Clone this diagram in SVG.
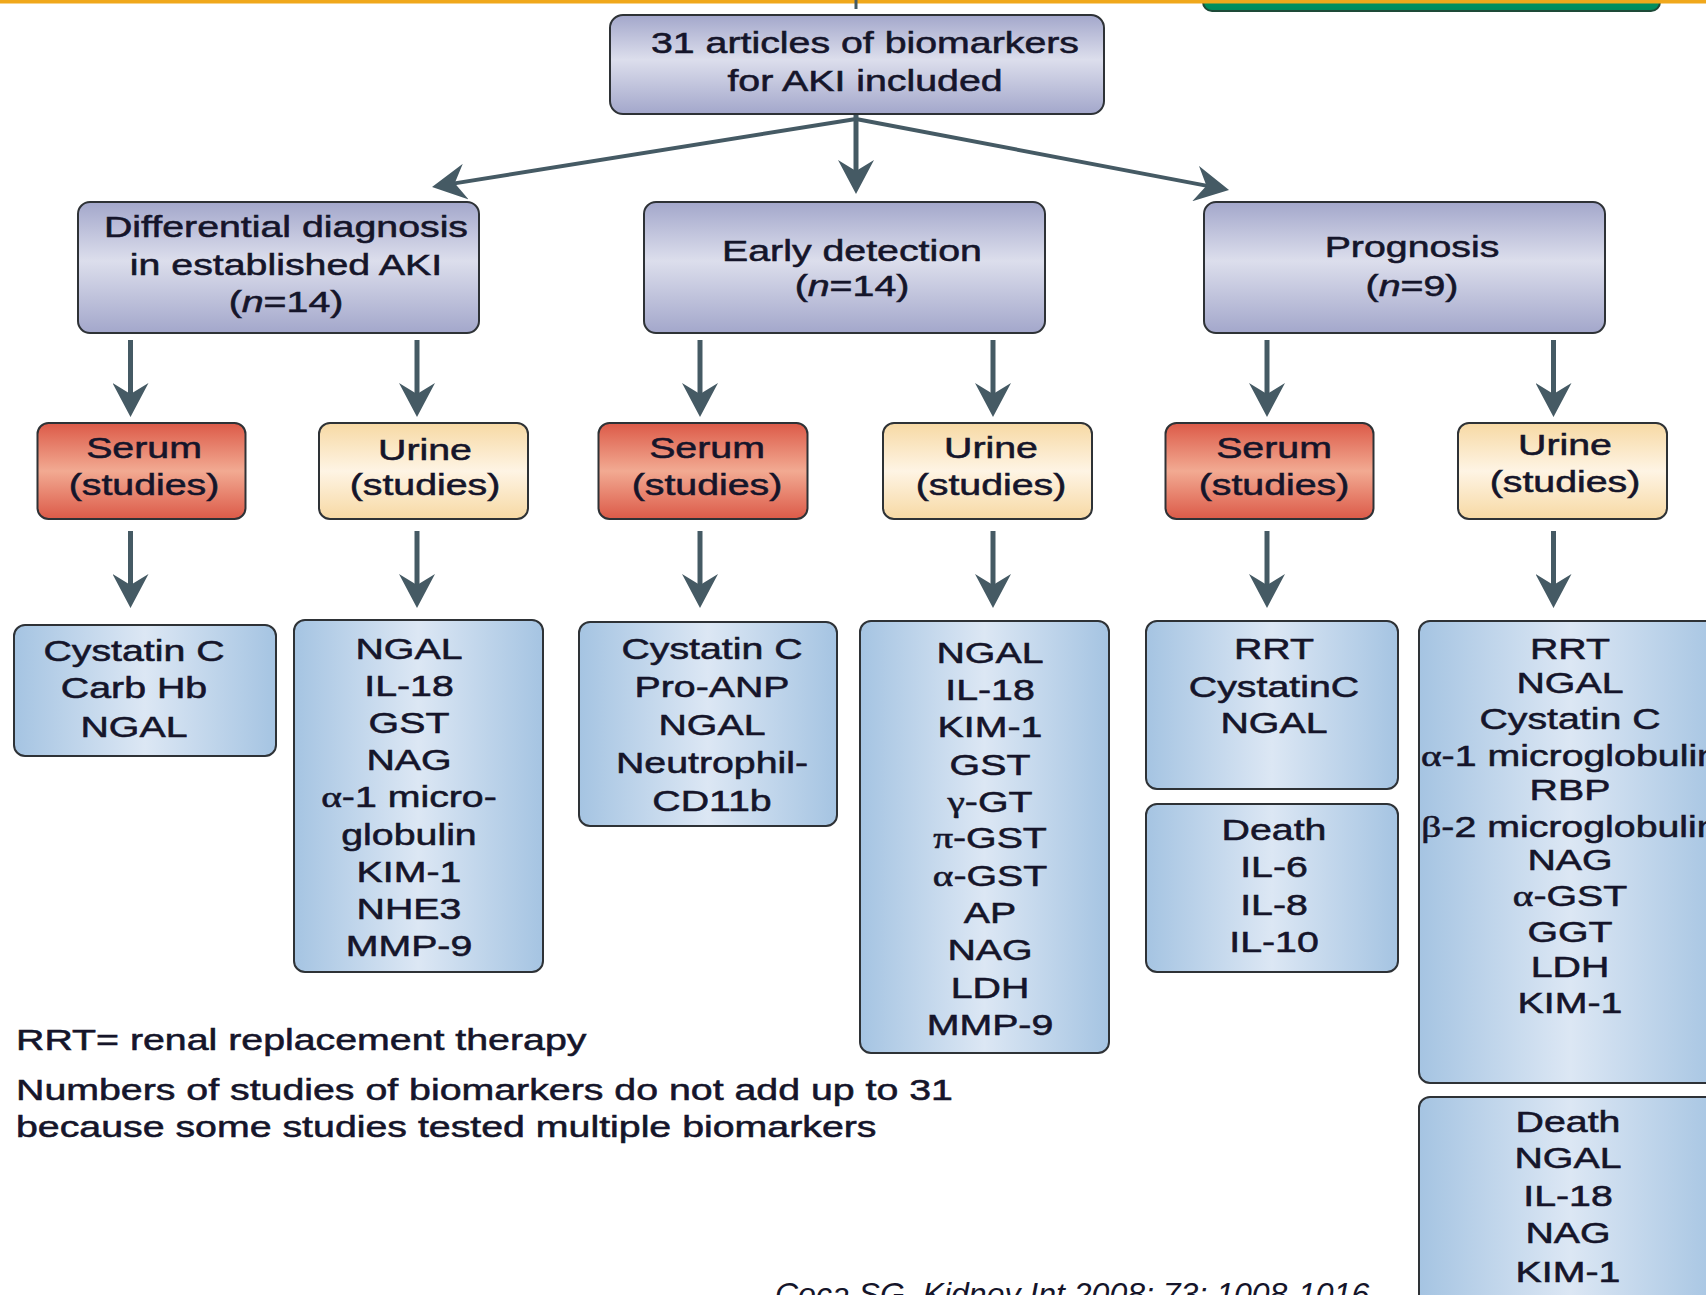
<svg xmlns="http://www.w3.org/2000/svg" width="1706" height="1295" viewBox="0 0 1706 1295">
<defs>
<linearGradient id="gLav" x1="0" y1="0" x2="0" y2="1">
<stop offset="0" stop-color="#A3A7CB"/><stop offset="0.45" stop-color="#DCDEEC"/><stop offset="1" stop-color="#A3A7CB"/>
</linearGradient>
<linearGradient id="gSerum" x1="0" y1="0" x2="0" y2="1">
<stop offset="0" stop-color="#DC5A48"/><stop offset="0.5" stop-color="#F2AA92"/><stop offset="1" stop-color="#DC5A48"/>
</linearGradient>
<linearGradient id="gUrine" x1="0" y1="0" x2="0" y2="1">
<stop offset="0" stop-color="#F7D9A4"/><stop offset="0.5" stop-color="#FEF4E4"/><stop offset="1" stop-color="#F7D9A4"/>
</linearGradient>
<linearGradient id="gBlue" x1="0" y1="0" x2="1" y2="0">
<stop offset="0" stop-color="#A5C4E2"/><stop offset="0.5" stop-color="#DCE7F4"/><stop offset="1" stop-color="#A5C4E2"/>
</linearGradient>
<linearGradient id="gGreen" x1="0" y1="0" x2="0" y2="1">
<stop offset="0" stop-color="#00A56E"/><stop offset="1" stop-color="#008A5C"/>
</linearGradient>
<marker id="ah" viewBox="0 0 34 36" markerWidth="34" markerHeight="36" refX="24" refY="18" orient="auto" markerUnits="userSpaceOnUse">
<path d="M0,0 L34,18 L0,36 L11,18 Z" fill="#455A64"/>
</marker>
<style>
.box{stroke:#2E3236;stroke-width:2}
.lav{fill:url(#gLav)}
.ser{fill:url(#gSerum)}
.uri{fill:url(#gUrine)}
.blu{fill:url(#gBlue)}
.t{font-family:"Liberation Sans",Arial,sans-serif;font-size:30px;fill:#15152A;stroke:#15152A;stroke-width:0.55;text-anchor:middle}
.tl{font-family:"Liberation Sans",Arial,sans-serif;font-size:30px;fill:#15152A;stroke:#15152A;stroke-width:0.55;text-anchor:start}
.gr{font-family:"Liberation Serif","Times New Roman",serif}
.it{font-style:italic}
.conn line{stroke:#455A64;fill:none;marker-end:url(#ah)}
.v{stroke-width:5}
.d{stroke-width:4}
</style>
</defs>
<rect x="0" y="0" width="1706" height="1295" fill="#FFFFFF"/>

<!-- slide decorations -->
<rect x="1203" y="-20" width="457" height="31" rx="9" fill="url(#gGreen)" stroke="#1E4A38" stroke-width="2"/>
<rect x="0" y="0" width="1706" height="3.5" fill="#F0A81C"/>
<line x1="856" y1="0" x2="856" y2="9" stroke="#455A64" stroke-width="3"/>

<g id="connectors" class="conn">
<line class="v" x1="856" y1="114" x2="856" y2="184"/>
<line class="d" x1="856" y1="119" x2="441.9" y2="185.4"/>
<line class="d" x1="856" y1="119" x2="1219.2" y2="188.1"/>
<line class="v" x1="130.5" y1="340" x2="130.5" y2="407"/>
<line class="v" x1="417" y1="340" x2="417" y2="407"/>
<line class="v" x1="700" y1="340" x2="700" y2="407"/>
<line class="v" x1="993" y1="340" x2="993" y2="407"/>
<line class="v" x1="1267" y1="340" x2="1267" y2="407"/>
<line class="v" x1="1553.5" y1="340" x2="1553.5" y2="407"/>
<line class="v" x1="130.5" y1="531" x2="130.5" y2="598"/>
<line class="v" x1="417" y1="531" x2="417" y2="598"/>
<line class="v" x1="700" y1="531" x2="700" y2="598"/>
<line class="v" x1="993" y1="531" x2="993" y2="598"/>
<line class="v" x1="1267" y1="531" x2="1267" y2="598"/>
<line class="v" x1="1553.5" y1="531" x2="1553.5" y2="598"/>
</g>

<g id="n-top">
<rect class="box lav" x="610" y="15" width="494" height="99" rx="13"/>
<text class="t" transform="translate(865 0) scale(1.31 1)"><tspan x="0" y="53">31 articles of biomarkers</tspan><tspan x="0" y="91">for AKI included</tspan></text>
</g>

<g id="n-diff">
<rect class="box lav" x="78" y="202" width="401" height="131" rx="12"/>
<text class="t" transform="translate(286 0) scale(1.31 1)"><tspan x="0" y="237">Differential diagnosis</tspan><tspan x="0" y="275">in established AKI</tspan><tspan x="0" y="312">(<tspan class="it">n</tspan>=14)</tspan></text>
</g>

<g id="n-early">
<rect class="box lav" x="644" y="202" width="401" height="131" rx="12"/>
<text class="t" transform="translate(852 0) scale(1.31 1)"><tspan x="0" y="261">Early detection</tspan><tspan x="0" y="296">(<tspan class="it">n</tspan>=14)</tspan></text>
</g>

<g id="n-prog">
<rect class="box lav" x="1204" y="202" width="401" height="131" rx="12"/>
<text class="t" transform="translate(1412 0) scale(1.31 1)"><tspan x="0" y="257">Prognosis</tspan><tspan x="0" y="296">(<tspan class="it">n</tspan>=9)</tspan></text>
</g>

<g id="n-diff-serum">
<rect class="box ser" x="37.5" y="423" width="208" height="96" rx="11"/>
<text class="t" transform="translate(144 0) scale(1.31 1)"><tspan x="0" y="458">Serum</tspan><tspan x="0" y="495">(studies)</tspan></text>
</g>
<g id="n-diff-urine">
<rect class="box uri" x="319" y="423" width="209" height="96" rx="11"/>
<text class="t" transform="translate(425 0) scale(1.31 1)"><tspan x="0" y="460">Urine</tspan><tspan x="0" y="495">(studies)</tspan></text>
</g>
<g id="n-early-serum">
<rect class="box ser" x="598.5" y="423" width="209" height="96" rx="11"/>
<text class="t" transform="translate(707 0) scale(1.31 1)"><tspan x="0" y="458">Serum</tspan><tspan x="0" y="495">(studies)</tspan></text>
</g>
<g id="n-early-urine">
<rect class="box uri" x="883" y="423" width="209" height="96" rx="11"/>
<text class="t" transform="translate(991 0) scale(1.31 1)"><tspan x="0" y="458">Urine</tspan><tspan x="0" y="495">(studies)</tspan></text>
</g>
<g id="n-prog-serum">
<rect class="box ser" x="1165.5" y="423" width="208" height="96" rx="11"/>
<text class="t" transform="translate(1274 0) scale(1.31 1)"><tspan x="0" y="458">Serum</tspan><tspan x="0" y="495">(studies)</tspan></text>
</g>
<g id="n-prog-urine">
<rect class="box uri" x="1458" y="423" width="209" height="96" rx="11"/>
<text class="t" transform="translate(1565 0) scale(1.31 1)"><tspan x="0" y="455">Urine</tspan><tspan x="0" y="492">(studies)</tspan></text>
</g>

<g id="n-diff-serum-list">
<rect class="box blu" x="14" y="625" width="262" height="131" rx="11"/>
<text class="t" transform="translate(134 0) scale(1.31 1)"><tspan x="0" y="661">Cystatin C</tspan><tspan x="0" y="698">Carb Hb</tspan><tspan x="0" y="737">NGAL</tspan></text>
</g>

<g id="n-diff-urine-list">
<rect class="box blu" x="294" y="620" width="249" height="352" rx="11"/>
<text class="t" transform="translate(409 0) scale(1.31 1)"><tspan x="0" y="659">NGAL</tspan><tspan x="0" y="696">IL-18</tspan><tspan x="0" y="733">GST</tspan><tspan x="0" y="770">NAG</tspan><tspan x="0" y="807"><tspan class="gr">α</tspan>-1 micro-</tspan><tspan x="0" y="845">globulin</tspan><tspan x="0" y="882">KIM-1</tspan><tspan x="0" y="919">NHE3</tspan><tspan x="0" y="956">MMP-9</tspan></text>
</g>

<g id="n-early-serum-list">
<rect class="box blu" x="579" y="622" width="258" height="204" rx="11"/>
<text class="t" transform="translate(712 0) scale(1.31 1)"><tspan x="0" y="659">Cystatin C</tspan><tspan x="0" y="697">Pro-ANP</tspan><tspan x="0" y="735">NGAL</tspan><tspan x="0" y="773">Neutrophil-</tspan><tspan x="0" y="811">CD11b</tspan></text>
</g>

<g id="n-early-urine-list">
<rect class="box blu" x="860" y="621" width="249" height="432" rx="11"/>
<text class="t" transform="translate(990 0) scale(1.31 1)"><tspan x="0" y="663">NGAL</tspan><tspan x="0" y="700">IL-18</tspan><tspan x="0" y="737">KIM-1</tspan><tspan x="0" y="775">GST</tspan><tspan x="0" y="812"><tspan class="gr">γ</tspan>-GT</tspan><tspan x="0" y="848"><tspan class="gr">π</tspan>-GST</tspan><tspan x="0" y="886"><tspan class="gr">α</tspan>-GST</tspan><tspan x="0" y="923">AP</tspan><tspan x="0" y="960">NAG</tspan><tspan x="0" y="998">LDH</tspan><tspan x="0" y="1035">MMP-9</tspan></text>
</g>

<g id="n-prog-serum-rrt">
<rect class="box blu" x="1146" y="621" width="252" height="168" rx="11"/>
<text class="t" transform="translate(1274 0) scale(1.31 1)"><tspan x="0" y="659">RRT</tspan><tspan x="0" y="697">CystatinC</tspan><tspan x="0" y="733">NGAL</tspan></text>
</g>

<g id="n-prog-serum-death">
<rect class="box blu" x="1146" y="804" width="252" height="168" rx="11"/>
<text class="t" transform="translate(1274 0) scale(1.31 1)"><tspan x="0" y="840">Death</tspan><tspan x="0" y="877">IL-6</tspan><tspan x="0" y="915">IL-8</tspan><tspan x="0" y="952">IL-10</tspan></text>
</g>

<g id="n-prog-urine-rrt">
<rect class="box blu" x="1419" y="621" width="303" height="462" rx="11"/>
<text class="t" transform="translate(1570 0) scale(1.31 1)"><tspan x="0" y="659">RRT</tspan><tspan x="0" y="693">NGAL</tspan><tspan x="0" y="729">Cystatin C</tspan><tspan x="0" y="766"><tspan class="gr">α</tspan>-1 microglobulin</tspan><tspan x="0" y="800">RBP</tspan><tspan x="0" y="837"><tspan class="gr">β</tspan>-2 microglobulin</tspan><tspan x="0" y="870">NAG</tspan><tspan x="0" y="906"><tspan class="gr">α</tspan>-GST</tspan><tspan x="0" y="942">GGT</tspan><tspan x="0" y="977">LDH</tspan><tspan x="0" y="1013">KIM-1</tspan></text>
</g>

<g id="n-prog-urine-death">
<rect class="box blu" x="1419" y="1097" width="303" height="220" rx="11"/>
<text class="t" transform="translate(1568 0) scale(1.31 1)"><tspan x="0" y="1132">Death</tspan><tspan x="0" y="1168">NGAL</tspan><tspan x="0" y="1206">IL-18</tspan><tspan x="0" y="1243">NAG</tspan><tspan x="0" y="1282">KIM-1</tspan></text>
</g>

<g id="notes">
<text class="tl" transform="translate(16 0) scale(1.31 1)"><tspan x="0" y="1050">RRT= renal replacement therapy</tspan><tspan x="0" y="1100">Numbers of studies of biomarkers do not add up to 31</tspan><tspan x="0" y="1137">because some studies tested multiple biomarkers</tspan></text>
<text x="775" y="1305" font-family="'Liberation Sans',Arial,sans-serif" font-size="32" font-style="italic" fill="#15152A">Coca SG, Kidney Int 2008; 73: 1008-1016</text>
</g>
</svg>
